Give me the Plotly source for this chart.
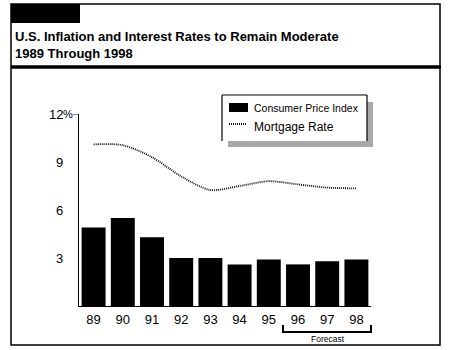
import plotly.graph_objects as go

years = ["89", "90", "91", "92", "93", "94", "95", "96", "97", "98"]
cpi = [4.9, 5.5, 4.3, 3.0, 3.0, 2.6, 2.9, 2.6, 2.8, 2.9]
mortgage = [10.1, 10.05, 9.3, 8.1, 7.25, 7.5, 7.8, 7.6, 7.4, 7.35]
ytick_vals = [3, 6, 9, 12]
ytick_text = ["3", "6", "9", "12"]
title1 = "U.S. Inflation and Interest Rates to Remain Moderate"
title2 = "1989 Through 1998"
legend_names = ["Consumer Price Index", "Mortgage Rate"]
forecast_label = "Forecast"

W, H = 451, 350
L, R, T, B = 79, 80, 114, 44
pw, ph = W - L - R, H - T - B

def px(x):
    return (x - L) / pw

def py(y):
    return (H - B - y) / ph

narrow = "Liberation Sans Narrow, Arial Narrow, Liberation Sans, Arial, sans-serif"
sans = "Liberation Sans, Arial, sans-serif"
line_style = dict(color="#111", width=1.8, dash="1px,1px")

fig = go.Figure()
fig.add_trace(go.Bar(x=years, y=cpi, marker=dict(color="black", line=dict(width=0)),
                     name=legend_names[0], showlegend=False))
fig.add_trace(go.Scatter(x=years, y=mortgage, mode="lines", name=legend_names[1],
                         line=dict(shape="spline", smoothing=0.8, **line_style),
                         showlegend=False))

shapes = []
# outer frame
shapes.append(dict(type="rect", xref="paper", yref="paper", x0=px(11), x1=px(440), y0=py(345), y1=py(4),
                   line=dict(color="black", width=1.5), fillcolor="rgba(0,0,0,0)", layer="below"))
# black tab
shapes.append(dict(type="rect", xref="paper", yref="paper", x0=px(11), x1=px(80), y0=py(23), y1=py(4),
                   line=dict(width=0), fillcolor="black"))
# thick rule
shapes.append(dict(type="line", xref="paper", yref="paper", x0=px(11), x1=px(441), y0=py(67), y1=py(67),
                   line=dict(color="black", width=3.5)))
# legend shadow
shapes.append(dict(type="rect", xref="paper", yref="paper", x0=px(228), x1=px(373), y0=py(147), y1=py(102),
                   line=dict(width=0), fillcolor="#a8a8a8"))
# legend box
shapes.append(dict(type="rect", xref="paper", yref="paper", x0=px(222), x1=px(367), y0=py(141), y1=py(95),
                   line=dict(width=0), fillcolor="white"))
for (x0, y0, x1, y1) in [(222, 95, 367, 95), (222, 95, 222, 141), (367, 95, 367, 141)]:
    shapes.append(dict(type="line", xref="paper", yref="paper", x0=px(x0), x1=px(x1), y0=py(y0), y1=py(y1),
                       line=dict(color="black", width=1.2)))
# legend swatches
shapes.append(dict(type="rect", xref="paper", yref="paper", x0=px(229), x1=px(248), y0=py(112), y1=py(103),
                   line=dict(width=0), fillcolor="black"))
shapes.append(dict(type="line", xref="paper", yref="paper", x0=px(229), x1=px(247), y0=py(124), y1=py(124),
                   line=line_style))
# 12% tick
shapes.append(dict(type="line", xref="paper", yref="y", x0=px(73), x1=px(79), y0=12, y1=12,
                   line=dict(color="black", width=1)))
# forecast bracket
shapes.append(dict(type="path", xref="paper", yref="paper",
                   path=f"M {px(283)} {py(325)} L {px(283)} {py(332)} L {px(371)} {py(332)} L {px(371)} {py(325)}",
                   line=dict(color="black", width=2)))

annotations = [
    dict(text=title1, xref="paper", yref="paper", x=px(13), y=py(36), xanchor="left", yanchor="middle",
         showarrow=False, font=dict(family=sans, size=13, color="black", weight="bold")),
    dict(text=title2, xref="paper", yref="paper", x=px(13), y=py(53), xanchor="left", yanchor="middle",
         showarrow=False, font=dict(family=sans, size=13, color="black", weight="bold")),
    dict(text=legend_names[0], xref="paper", yref="paper", x=px(252), y=py(108), xanchor="left", yanchor="middle",
         showarrow=False, font=dict(family=sans, size=10.5, color="black")),
    dict(text=legend_names[1], xref="paper", yref="paper", x=px(252), y=py(127), xanchor="left", yanchor="middle",
         showarrow=False, font=dict(family=sans, size=12, color="black")),
    dict(text=forecast_label, xref="paper", yref="paper", x=px(328), y=py(339), xanchor="center", yanchor="middle",
         showarrow=False, font=dict(family=sans, size=8.5, color="black")),
]
# y tick labels (numbers right-aligned, "%" hangs past them on the top label)
for v, t in zip(ytick_vals, ytick_text):
    annotations.append(dict(text=t, xref="paper", yref="y", x=px(64), y=v, xanchor="right", yanchor="middle",
                            showarrow=False, borderpad=0, font=dict(family=narrow, size=13, color="black")))
annotations.append(dict(text="%", xref="paper", yref="y", x=px(62), y=12, xanchor="left", yanchor="middle",
                        showarrow=False, borderpad=0, font=dict(family=narrow, size=11, color="black")))

fig.update_layout(
    width=W, height=H,
    margin=dict(l=L, r=R, t=T, b=B, pad=0),
    paper_bgcolor="white", plot_bgcolor="white",
    bargap=0.18,
    shapes=shapes, annotations=annotations,
    xaxis=dict(type="category", range=[-0.5, 9.5], showgrid=False, zeroline=False,
               showline=True, linecolor="black", linewidth=1, ticks="",
               tickfont=dict(family=narrow, size=13, color="black"), ticklabelstandoff=1),
    yaxis=dict(range=[0, 12], tickvals=ytick_vals, showticklabels=False, showgrid=False, zeroline=False,
               showline=True, linecolor="black", linewidth=1, ticks=""),
)

fig.write_html("out.html")
